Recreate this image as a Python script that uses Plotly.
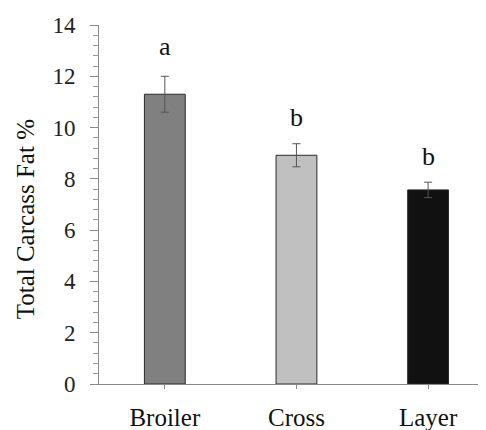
import plotly.graph_objects as go

categories = ["Broiler", "Cross", "Layer"]
fat_pct = [11.3, 8.92, 7.57]
sem = [0.7, 0.45, 0.3]
sig_letters = ["a", "b", "b"]
letter_y = [13.15, 10.4, 8.87]
bar_colors = ["#808080", "#c0c0c0", "#111111"]
y_ticks = [0, 2, 4, 6, 8, 10, 12, 14]

FONT = "Liberation Serif, Times New Roman, serif"

fig = go.Figure()
fig.add_trace(go.Bar(
    x=categories, y=fat_pct,
    width=0.31,
    marker=dict(color=bar_colors, line=dict(color="#2a2a2a", width=1)),
    error_y=dict(type="data", array=sem, visible=True, color="#555555", thickness=1, width=4),
    showlegend=False,
))

for c, t, yy in zip(categories, sig_letters, letter_y):
    fig.add_annotation(x=c, y=yy, text=t, showarrow=False,
                       font=dict(family=FONT, size=26, color="#111111"),
                       xanchor="center", yanchor="middle")

fig.add_annotation(xref="paper", yref="paper", x=-0.19, y=0.46,
                   text="Total Carcass Fat %", textangle=-90, showarrow=False,
                   font=dict(family=FONT, size=25, color="#111111"),
                   xanchor="center", yanchor="middle")

# the page body adds an 8px margin, so the figure is sized to fill the rest of the window
fig.update_layout(
    width=478, height=422,
    margin=dict(l=91, r=0, t=17, b=46, autoexpand=False),
    paper_bgcolor="white", plot_bgcolor="white",
    font=dict(family=FONT, color="#111111"),
)
fig.update_xaxes(
    range=[-0.5, 2.44], automargin=False,
    showline=True, linecolor="#8a8a8a", linewidth=1,
    ticks="outside", ticklen=4, tickcolor="#8a8a8a",
    tickfont=dict(family=FONT, size=25, color="#111111"),
    ticklabelstandoff=7,
    showgrid=False, zeroline=False,
)
fig.update_yaxes(
    range=[0, 14], tickvals=y_ticks, automargin=False,
    showline=True, linecolor="#8a8a8a", linewidth=1,
    ticks="outside", ticklen=8, tickcolor="#8a8a8a",
    minor=dict(dtick=0.4, ticks="outside", ticklen=5, tickcolor="#9a9a9a"),
    tickfont=dict(family=FONT, size=23, color="#222222"),
    ticklabelstandoff=10,
    showgrid=False, zeroline=False,
)

fig.write_html("out.html")
